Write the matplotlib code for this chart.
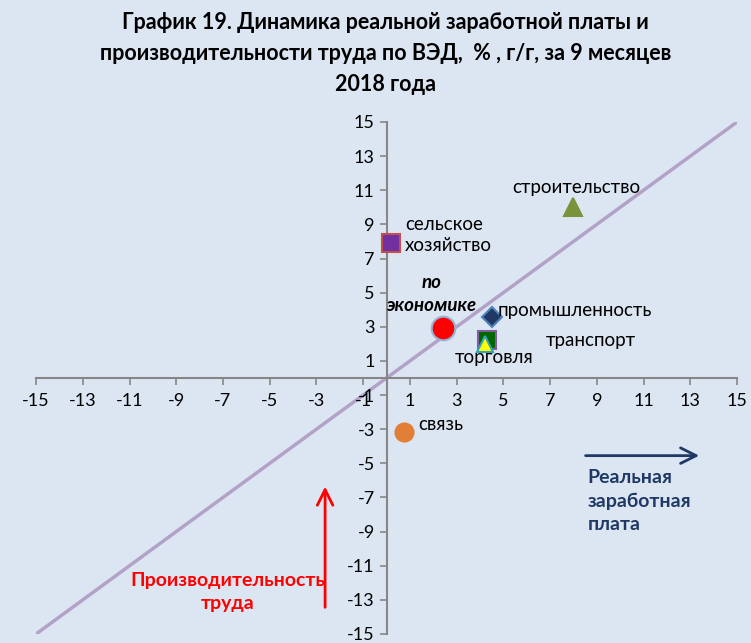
import matplotlib.pyplot as plt

plt.rcParams['font.family'] = ['Lato', 'DejaVu Sans']
plt.rcParams['axes.unicode_minus'] = False

# Data: real wage growth (x) vs labour productivity growth (y), % y/y
sectors = ['сельское\nхозяйство', 'строительство', 'по\nэкономике', 'промышленность',
           'транспорт', 'торговля', 'связь']
wage = [0.2, 8.0, 2.4, 4.5, 4.3, 4.2, 0.75]
productivity = [7.9, 10.0, 2.9, 3.6, 2.2, 2.0, -3.15]

ticks = list(range(-15, 16, 2))
bg = '#dce6f2'

# marker style per sector
markers = ['s', '^', 'o', 'D', 's', '^', 'o']
faces = ['#7030a0', '#77933c', '#ff0000', '#1f3864', '#006600', '#ffff00', '#e07f35']
edges = ['#c0504d', '#77933c', '#95b3d7', '#4f81bd', '#7f5fa0', '#31a2b8', '#e07f35']
sizes = [13, 13, 17, 10, 13, 11, 13]
# label offsets in points
offs = [(10, 6), (2, 14), (-8, 25), (4, 4), (42, 0), (7, -10), (10, 5)]
has = ['left', 'center', 'center', 'left', 'left', 'center', 'left']
spacing = [1.3, 1.3, 1.45, 1.3, 1.3, 1.3, 1.3]

fig = plt.figure(figsize=(7.51, 6.43), dpi=100, facecolor=bg)
ax = fig.add_axes([0.048, 0.014, 0.9334, 0.7963], facecolor=bg)

ax.plot([-15, 15], [-15, 15], color='#b3a2c7', lw=2.5, zorder=1)

for i in range(len(sectors)):
    ax.plot(wage[i], productivity[i], marker=markers[i], ms=sizes[i],
            mfc=faces[i], mec=edges[i], mew=1.5, ls='none', zorder=3)
    bold = i == 2
    ax.annotate(sectors[i], (wage[i], productivity[i]), xytext=offs[i],
                textcoords='offset points', ha=has[i], va='center',
                fontsize=13.5, color='black', linespacing=spacing[i],
                fontweight='bold' if bold else 'normal',
                fontstyle='italic' if bold else 'normal', zorder=4)

ax.set_xlim(-15, 15)
ax.set_ylim(-15, 15)
ax.set_xticks(ticks)
ax.set_yticks(ticks)
ax.tick_params(axis='both', direction='out', length=5, width=1.2, color='#868686',
               labelsize=13, labelcolor='black')
ax.tick_params(axis='x', pad=6)
ax.spines['left'].set_position(('data', 0))
ax.spines['bottom'].set_position(('data', 0))
for s in ['left', 'bottom']:
    ax.spines[s].set_color('#868686')
    ax.spines[s].set_linewidth(1.5)
for s in ['top', 'right']:
    ax.spines[s].set_visible(False)

fig.text(0.513, 0.982,
         'График 19. Динамика реальной заработной платы и\n'
         'производительности труда по ВЭД,  % , г/г, за 9 месяцев\n2018 года',
         ha='center', va='top', fontsize=15.5, fontweight='bold', linespacing=1.6)

# direction arrows
ax.annotate('', xy=(-2.63, -6.2), xytext=(-2.63, -13.6),
            arrowprops=dict(arrowstyle='->', color='red', lw=2, mutation_scale=28))
ax.text(-6.8, -12.55, 'Производительность\nтруда', color='red', fontsize=14,
        fontweight='bold', ha='center', va='center', linespacing=1.45)

ax.annotate('', xy=(13.5, -4.55), xytext=(8.4, -4.55),
            arrowprops=dict(arrowstyle='->', color='#1f3864', lw=2, mutation_scale=28))
ax.text(8.6, -7.2, 'Реальная\nзаработная\nплата', color='#1f3864', fontsize=14,
        fontweight='bold', ha='left', va='center', linespacing=1.45)

fig.savefig('out.png', dpi=100, facecolor=bg)
